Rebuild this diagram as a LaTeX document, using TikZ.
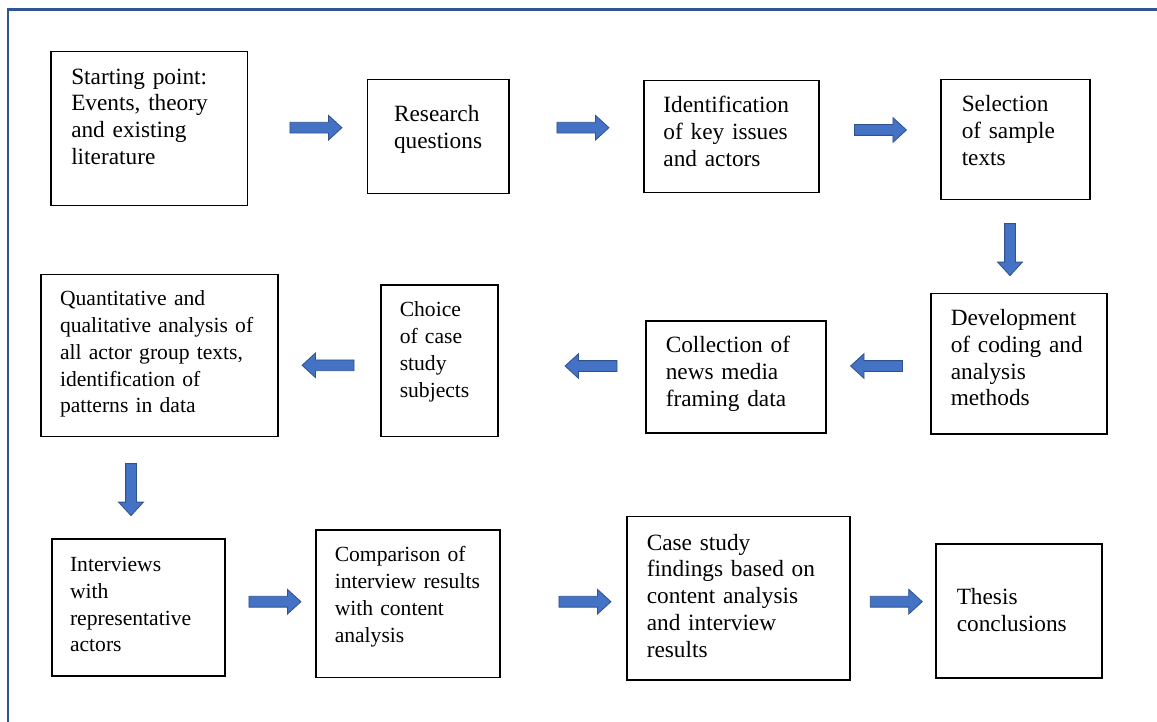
\documentclass[tikz,border=0pt]{standalone}
\usepackage{fontspec}
\setmainfont{Liberation Serif}
\usetikzlibrary{shapes.arrows}
\definecolor{frameblue}{HTML}{2F5597}
\definecolor{arrowfill}{HTML}{4472C4}
\definecolor{arrowedge}{HTML}{2F528F}
\tikzset{
  flowbox/.style={draw=black, line width=1.5pt, anchor=north west, inner ysep=0pt, align=left},
  bigtext/.style={font=\fontsize{23.3}{26.8}\selectfont},
  smalltext/.style={font=\fontsize{21.6}{26.8}\selectfont},
  blockarrow/.style={single arrow, draw=arrowedge, fill=arrowfill, line width=0.8pt,
    inner sep=5pt, minimum height=52pt, minimum width=24pt,
    single arrow head extend=7pt, single arrow tip angle=85, single arrow head indent=0pt},
  toright/.style={blockarrow, shape border rotate=0},
  toleft/.style={blockarrow, shape border rotate=180},
  todown/.style={blockarrow, shape border rotate=270},
  frameline/.style={draw=frameblue, line width=2.5pt}
}
% #1 name, #2 x, #3 y top, #4 text width, #5 depth below first baseline, #6 first baseline offset, #7 left indent, #8 text, #9 style
\newcommand\flowbx[9]{\node[flowbox,#9,inner xsep=#7pt,text width=#4pt,text height=#6pt,text depth=#5pt] (#1) at (#2,#3) {#8};}
\begin{document}
\begin{tikzpicture}[x=1pt,y=-1pt]
\useasboundingbox (0,0) rectangle (1157,722);
\coordinate (fr1) at (1157,9.5);
\coordinate (fr2) at (8,9.5);
\coordinate (fr3) at (8,722);
\draw[frameline] (fr1) -- (fr2) -- (fr3);

% row 1
\flowbx{b1}{50}{50.7}{155.5}{121.7}{32.6}{20.5}{Starting point:\\Events, theory\\and existing\\literature}{bigtext}
\flowbx{b2}{366.7}{79}{88.3}{72}{41.7}{26.6}{Research\\questions}{bigtext}
\flowbx{b3}{643.3}{80}{135.9}{80.3}{31.7}{19.4}{Identification\\of key issues\\and actors}{bigtext}
\flowbx{b4}{940}{79}{107.3}{88}{32}{21}{Selection\\of sample\\texts}{bigtext}
% row 2
\flowbx{b5}{930}{292.7}{136}{108.3}{32}{20}{Development\\of coding and\\analysis\\methods}{bigtext}
\flowbx{b6}{645}{320}{140}{80}{32}{20}{Collection of\\news media\\framing data}{bigtext}
\flowbx{b7}{380}{284}{79.3}{119.7}{32}{19}{Choice\\of case\\study\\subjects}{smalltext}
\flowbx{b8}{40}{274}{198.7}{130.7}{31}{19.3}{Quantitative and\\qualitative analysis of\\all actor group texts,\\identification of\\patterns in data}{smalltext}
% row 3
\flowbx{b9}{51}{538.3}{136.4}{104.3}{32.4}{18.3}{Interviews\\with\\representative\\actors}{smalltext}
\flowbx{b10}{315}{529}{146}{115.7}{32}{19}{Comparison of\\interview results\\with content\\analysis}{smalltext}
\flowbx{b11}{626}{515.7}{183}{129.7}{33.6}{20}{Case study\\findings based on\\content analysis\\and interview\\results}{bigtext}
\flowbx{b12}{935}{543}{124}{73.3}{61}{21}{Thesis\\conclusions}{bigtext}

% block arrows between the boxes
\node[toright] (a1) at (313,127.7) {};
\node[toright] (a2) at (580,127.7) {};
\node[toright] (a3) at (877.5,130) {};
\node[todown] (a4) at (1010,246.7) {};
\node[toleft] (a5) at (879.5,366) {};
\node[toleft] (a6) at (594,366) {};
\node[toleft] (a7) at (331,365.3) {};
\node[todown] (a8) at (131,486.7) {};
\node[toright] (a9) at (272,601.7) {};
\node[toright] (a10) at (582,601.7) {};
\node[toright] (a11) at (893.3,601.7) {};
\end{tikzpicture}
\end{document}
